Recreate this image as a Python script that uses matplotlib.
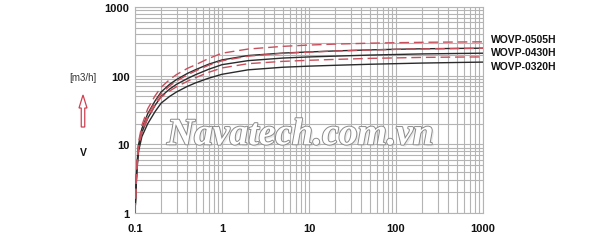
import matplotlib
matplotlib.use('Agg')
import matplotlib.pyplot as plt
import matplotlib.patheffects as pe
from matplotlib.patches import FancyArrow
from matplotlib.transforms import IdentityTransform

# pressure axis (x) and pumping speed V [m3/h]
pressure = [0.1, 0.105, 0.11, 0.12, 0.14, 0.17, 0.2, 0.25, 0.3, 0.4, 0.5, 0.7,
            1, 2, 5, 10, 20, 50, 100, 200, 500, 1000]

# black solid = 50 Hz, red dashed = 60 Hz
b_0505 = [1, 5, 10, 17, 28, 43, 58, 75, 88, 108, 123, 147,
          170, 197, 214, 222, 230, 238, 243, 247, 250, 252]
b_0430 = [1, 4.5, 9, 15, 24, 37, 50, 64, 75, 91, 104, 124,
          145, 166, 181, 188, 193, 200, 204, 208, 211, 213]
b_0320 = [1, 4, 8, 13, 20, 30, 40, 50, 58, 70, 79, 92,
          105, 122, 133, 138, 142, 147, 150, 153, 156, 158]
r_0505 = [1, 5.5, 11, 19, 33, 51, 68, 88, 104, 128, 145, 178,
          213, 245, 268, 280, 289, 298, 303, 307, 310, 312]
r_0430 = [1, 5, 10, 16, 27, 41, 55, 71, 84, 103, 118, 142,
          165, 193, 212, 221, 229, 237, 242, 246, 249, 251]
r_0320 = [1, 4.5, 9, 15, 24, 37, 49, 60, 69, 83, 94, 112,
          130, 150, 162, 168, 173, 179, 182, 185, 187, 188]

models = ['WOVP-0505H', 'WOVP-0430H', 'WOVP-0320H']
x_ticks = [0.1, 1, 10, 100, 1000]
x_labels = ['0.1', '1', '10', '100', '1000']
y_ticks = [1, 10, 100, 1000]
y_labels = ['1', '10', '100', '1000']

plt.rcParams['font.family'] = ['Liberation Sans', 'DejaVu Sans']

fig = plt.figure(figsize=(6, 2.53), dpi=100)
ax = fig.add_axes([0.225, 0.154, 0.58, 0.814])
ax.set_xscale('log')
ax.set_yscale('log')
ax.set_xlim(0.1, 1000)
ax.set_ylim(1, 1000)

ax.grid(True, which='both', color='#b4b4b4', lw=0.8)
ax.set_axisbelow(True)
for s in ax.spines.values():
    s.set_color('#b4b4b4')
    s.set_linewidth(0.8)

ax.set_xticks(x_ticks)
ax.set_xticklabels(x_labels)
ax.set_yticks(y_ticks)
ax.set_yticklabels(y_labels)
ax.tick_params(which='both', length=0, labelsize=8, colors='#111111')
ax.tick_params(axis='x', pad=7)
ax.tick_params(axis='y', pad=4)
for lab in ax.get_xticklabels() + ax.get_yticklabels():
    lab.set_fontweight('bold')

# watermark
ax.text(0.475, 0.38, 'Navatech.com.vn', transform=ax.transAxes, ha='center',
        va='center', fontsize=27, family='Liberation Serif', style='italic',
        fontweight='bold', color='white', zorder=1,
        path_effects=[pe.withSimplePatchShadow(offset=(1.5, -1.5), shadow_rgbFace='#bbbbbb'),
                      pe.withStroke(linewidth=1.4, foreground='#8a8a8a')])

for vals in (b_0505, b_0430, b_0320):
    ax.plot(pressure, vals, color='#2a2a2a', lw=1.0, zorder=3)
for vals in (r_0505, r_0430, r_0320):
    ax.plot(pressure, vals, color='#c8505c', lw=1.0, dashes=(7, 3.5), zorder=4)

for i, name in enumerate(models):
    fig.text(491 / 600, 1 - (40 + 13.5 * i) / 253, name, fontsize=7.5,
             fontweight='bold', va='center', ha='left', color='#111111')

fig.text(83 / 600, 1 - 78 / 253, '[m3/h]', fontsize=7, ha='center', va='center',
         color='#333333')
fig.text(83 / 600, 1 - 153 / 253, 'V', fontsize=7.5, fontweight='bold',
         ha='center', va='center', color='#111111')
fig.add_artist(FancyArrow(83, 253 - 128, 0, 32, width=3.5, head_width=8,
                          head_length=13, length_includes_head=True,
                          transform=IdentityTransform(), facecolor='white',
                          edgecolor='#d04050', lw=0.9))

fig.savefig('out.png', dpi=100)
